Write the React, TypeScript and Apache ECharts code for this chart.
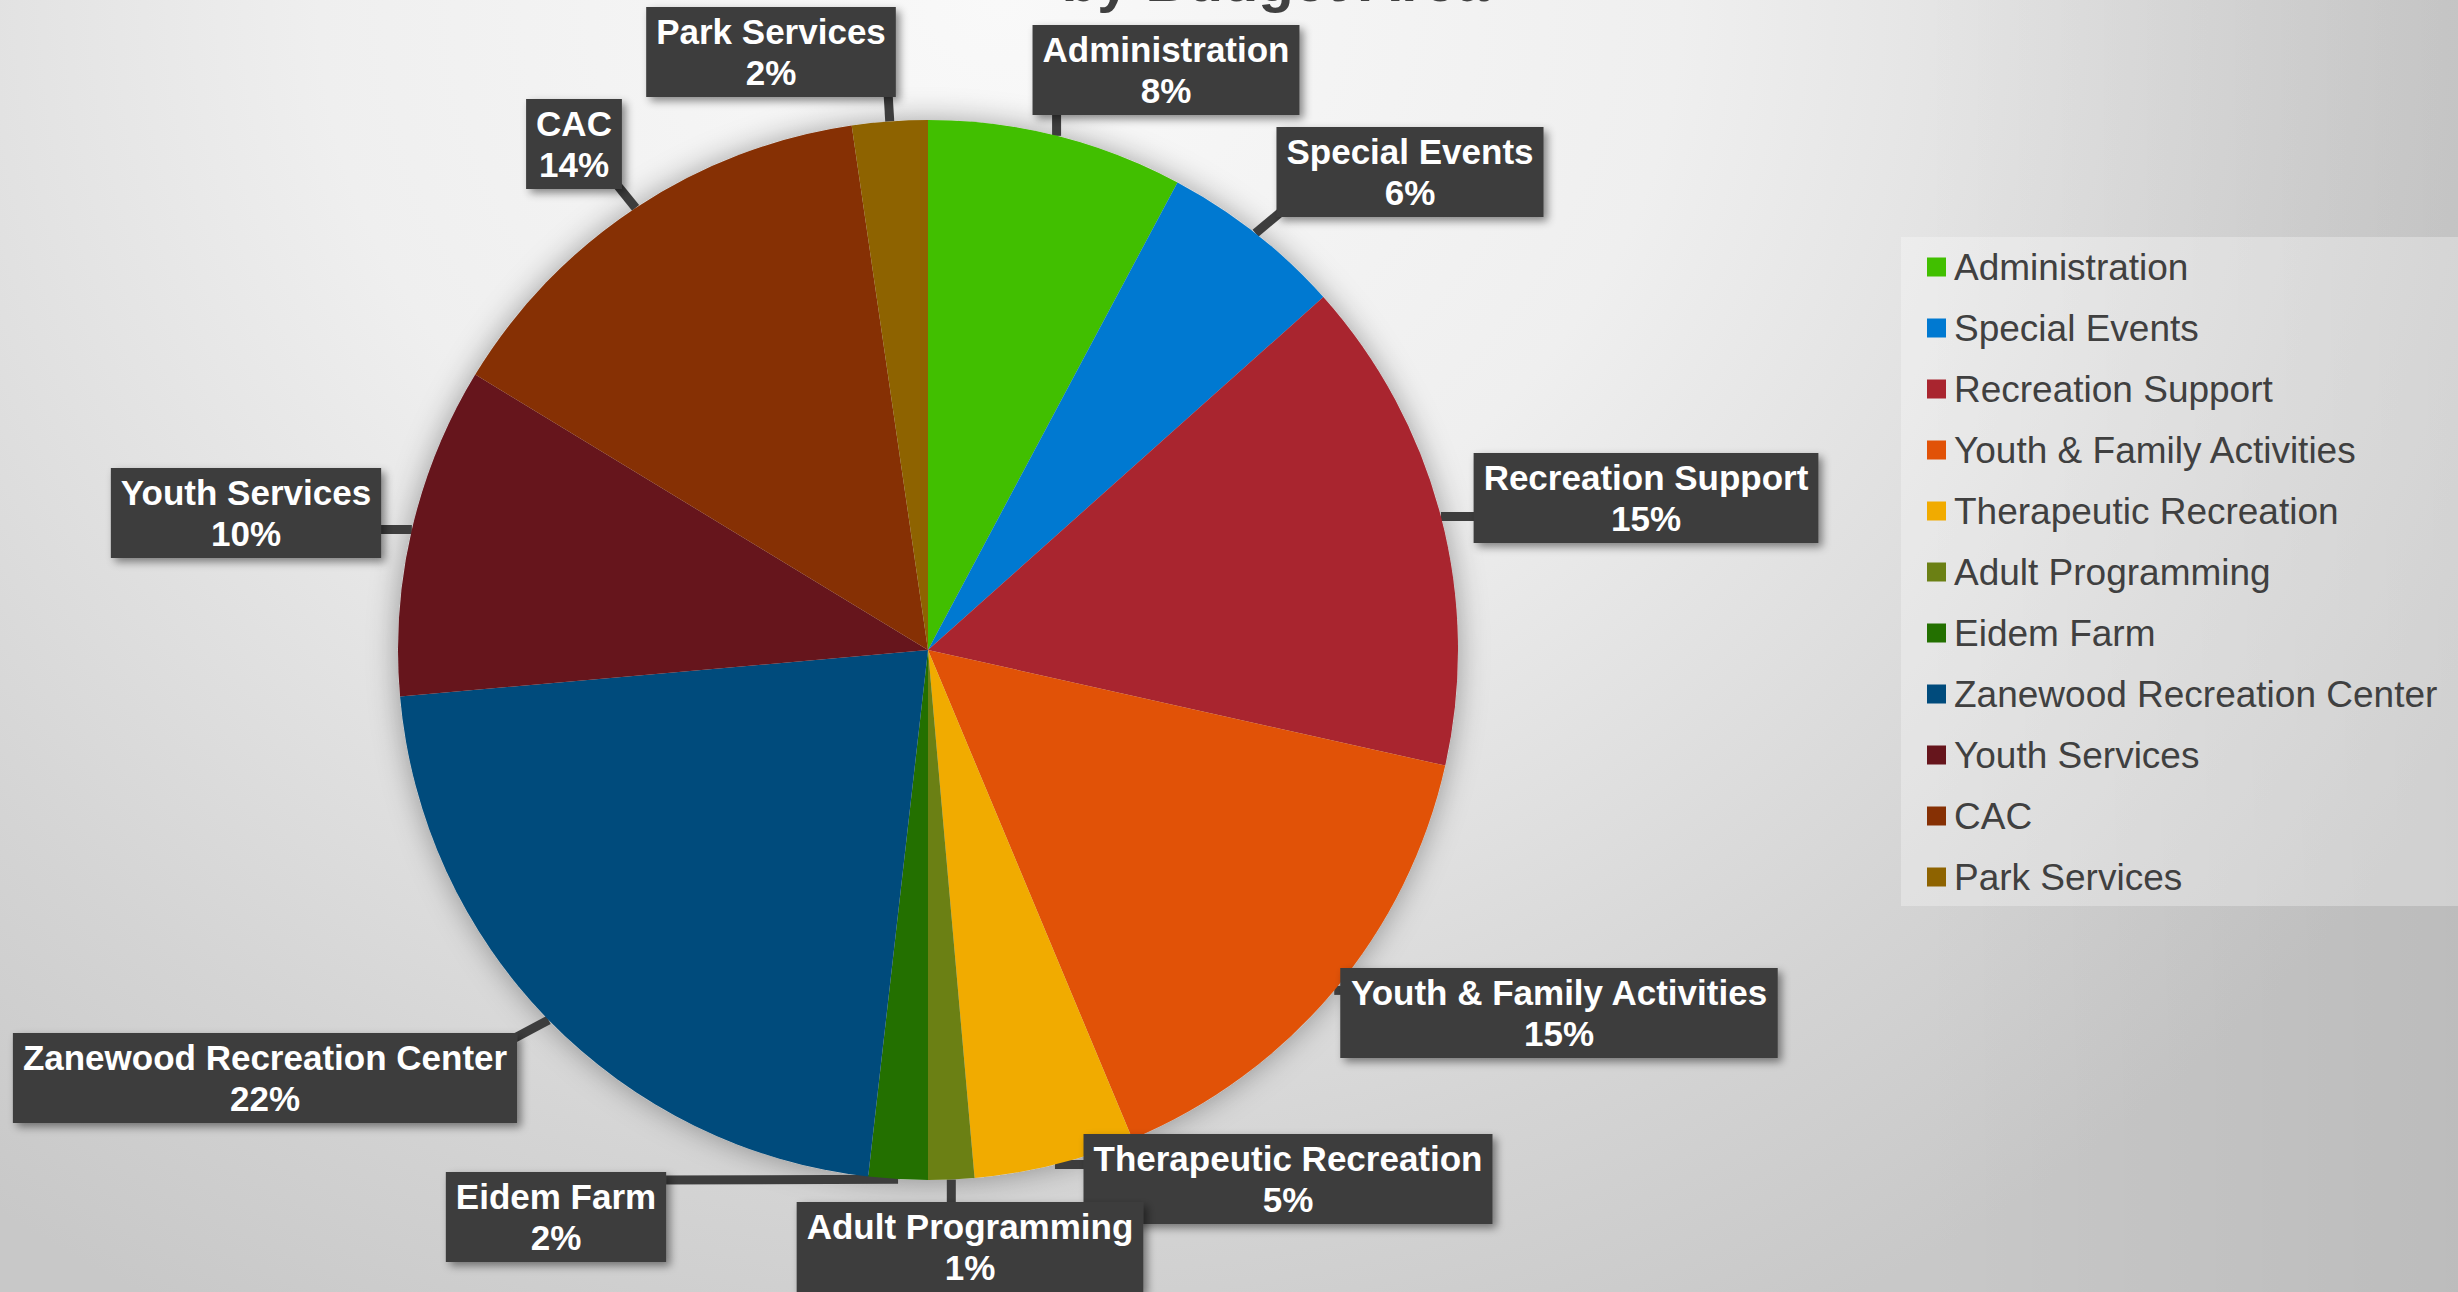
import React, { useEffect, useRef } from "react";
import * as echarts from "echarts";

// ---- data ----
const categories = [
  "Administration",
  "Special Events",
  "Recreation Support",
  "Youth & Family Activities",
  "Therapeutic Recreation",
  "Adult Programming",
  "Eidem Farm",
  "Zanewood Recreation Center",
  "Youth Services",
  "CAC",
  "Park Services",
];
const shares = [7.8, 5.6, 15.1, 15.2, 4.9, 1.4, 1.8, 21.8, 10.1, 14.0, 2.3];
const colors = [
  "#41BF00",
  "#0079D1",
  "#A9252F",
  "#E15207",
  "#F1AB00",
  "#6B8014",
  "#237000",
  "#004B7C",
  "#66151C",
  "#863004",
  "#8E6300",
];
const titleText = "by Budget Area";

// ---- layout (label box centres, in px) ----
const labelCenters: [number, number][] = [
  [1166, 70],
  [1410, 172],
  [1646, 498],
  [1559, 1013],
  [1288, 1179],
  [970, 1247],
  [556, 1217],
  [265, 1078],
  [246, 513],
  [574, 144],
  [771, 52],
];

const W = 2458;
const H = 1292;
const PIE_CENTER: [number, number] = [928, 650];
const PIE_R = 530;

export default function App() {
  const ref = useRef<HTMLDivElement>(null);

  useEffect(() => {
    if (!ref.current) return;
    const chart = echarts.init(ref.current, null, { renderer: "svg" });
    const option: any = {
      animation: false,
      backgroundColor: "transparent",
      graphic: [
        {
          type: "text",
          silent: true,
          style: {
            text: titleText,
            x: 1275,
            y: -20,
            align: "center",
            verticalAlign: "middle",
            textAlign: "center",
            textVerticalAlign: "middle",
            font: 'bold 58px "Liberation Sans", Arial, sans-serif',
            fill: "#404040",
          },
        },
      ],
      legend: {
        orient: "vertical",
        left: 1901,
        top: 237,
        padding: [9, 21, 8, 26],
        backgroundColor: "rgba(255,255,255,0.3)",
        itemWidth: 19,
        itemHeight: 19,
        itemGap: 19,
        icon: "rect",
        selectedMode: false,
        data: categories,
        textStyle: {
          fontSize: 37,
          lineHeight: 42,
          color: "#404040",
          fontFamily: '"Liberation Sans", Arial, sans-serif',
          padding: [0, 0, 0, 3],
        },
      },
      series: [
        {
          type: "pie",
          silent: true,
          z: 1,
          center: PIE_CENTER,
          radius: PIE_R,
          label: { show: false },
          labelLine: { show: false },
          emphasis: { disabled: true },
          data: [
            {
              value: 1,
              name: "",
              itemStyle: {
                color: "#d8d8d8",
                shadowBlur: 30,
                shadowColor: "rgba(0,0,0,0.35)",
              },
            },
          ],
        },
        {
          type: "pie",
          z: 2,
          center: PIE_CENTER,
          radius: PIE_R,
          startAngle: 90,
          clockwise: true,
          percentPrecision: 0,
          avoidLabelOverlap: false,
          emphasis: { disabled: true },
          itemStyle: { borderWidth: 0 },
          data: categories.map((n, i) => ({
            name: n,
            value: shares[i],
            itemStyle: { color: colors[i] },
          })),
          label: {
            show: true,
            position: "outside",
            formatter: "{b}\n{d}%",
            color: "#ffffff",
            fontSize: 35,
            fontWeight: "bold",
            fontFamily: '"Liberation Sans", Arial, sans-serif',
            lineHeight: 41,
            backgroundColor: "#3d3d3d",
            padding: [4, 10],
            shadowBlur: 8,
            shadowOffsetX: 4,
            shadowOffsetY: 4,
            shadowColor: "rgba(0,0,0,0.45)",
          },
          labelLine: {
            show: true,
            length: 10,
            length2: 10,
            lineStyle: { color: "#3d3d3d", width: 9 },
          },
          labelLayout: (p: any) => {
            const c = labelCenters[p.dataIndex];
            if (!c) return {};
            const [cx, cy] = c;
            const w = p.labelRect.width;
            const h = p.labelRect.height;
            const pts = p.labelLinePoints;
            const tip = pts && pts[0] ? pts[0] : [cx, cy];
            const ax = Math.min(Math.max(tip[0], cx - w / 2 + 8), cx + w / 2 - 8);
            const ay = Math.min(Math.max(tip[1], cy - h / 2 + 8), cy + h / 2 - 8);
            return {
              x: cx,
              y: cy,
              align: "center",
              verticalAlign: "middle",
              labelLinePoints: [
                [tip[0], tip[1]],
                [ax, ay],
                [ax, ay],
              ],
            };
          },
        },
      ],
    };
    chart.setOption(option);
    return () => chart.dispose();
  }, []);

  return (
    <div
      style={{
        position: "absolute",
        left: 0,
        top: 0,
        width: W,
        height: H,
        overflow: "hidden",
        background:
          "linear-gradient(to right, rgba(0,0,0,0) 78%, rgba(0,0,0,0.06) 100%), radial-gradient(1700px 1500px at 1000px 0px, #f9f9f9 0%, #efefef 40%, #d4d4d4 80%, #c8c8c8 100%)",
      }}
    >
      <div ref={ref} style={{ width: W, height: H }} />
    </div>
  );
}
